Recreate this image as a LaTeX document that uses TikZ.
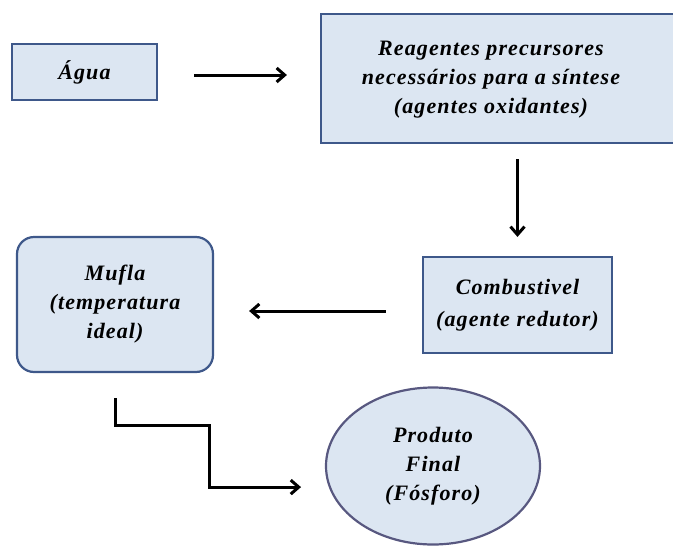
\documentclass[tikz,border=0pt]{standalone}
\usepackage{fontspec}
\setmainfont{Liberation Serif}
\newfontfamily\diagfont[LetterSpace=5]{Liberation Serif}
\usetikzlibrary{arrows.meta, shapes.geometric, positioning}

\definecolor{boxFill}{RGB}{220,230,242}
\definecolor{boxLine}{RGB}{62,88,138}
\definecolor{ovalLine}{RGB}{88,88,128}

\tikzset{
    boxNode/.style={draw=boxLine, line width=2.2pt, fill=boxFill, align=center, inner sep=0pt,
        font=\diagfont\fontsize{22}{29}\selectfont\bfseries\itshape},
    arrowLine/.style={line width=3pt, -{Straight Barb[length=8pt, width=14pt, line width=3pt]}}
}

\begin{document}
\begin{tikzpicture}[x=1pt, y=-1pt]
\useasboundingbox (0,0) rectangle (673,547);
\clip (0,0) rectangle (673,547);

\node[boxNode, align=none, minimum width=380pt, minimum height=129pt] (reagentes) at (511,78.5) {\begin{tabular}{@{}c@{}}Reagentes precursores\\necessários para a síntese\\(agentes oxidantes)\end{tabular}\hspace*{40pt}};
\node[boxNode, minimum width=145pt, minimum height=56pt] (agua) at (84.5,72) {Água};
\node[boxNode, minimum width=189pt, minimum height=96pt, font=\diagfont\fontsize{22}{32}\selectfont\bfseries\itshape] (combustivel) at (517.5,305) {Combustivel\\(agente redutor)};
\node[boxNode, rounded corners=17pt, minimum width=196pt, minimum height=135pt] (mufla) at (115,304.5) {Mufla\\(temperatura\\ideal)};
\node[boxNode, ellipse, draw=ovalLine, minimum width=214pt, minimum height=157pt] (produto) at (433,466) {Produto\\Final\\(Fósforo)};

\draw[arrowLine, shorten <=36pt, shorten >=33pt] ([yshift=-3pt]agua.east) -- ([yshift=-3pt]agua.east -| reagentes.west);
\draw[arrowLine, shorten <=15pt, shorten >=19pt] (combustivel |- reagentes.south) -- (combustivel.north);
\draw[arrowLine, shorten <=36pt, shorten >=35pt] ([yshift=-6pt]combustivel.west) -- ([yshift=-6pt]combustivel.west -| mufla.east);
\draw[arrowLine] (mufla.south) ++(0,25) -- ++(0,27) -- ++(94,0) -- ++(0,62) -- ++(92,0);

\end{tikzpicture}
\end{document}
